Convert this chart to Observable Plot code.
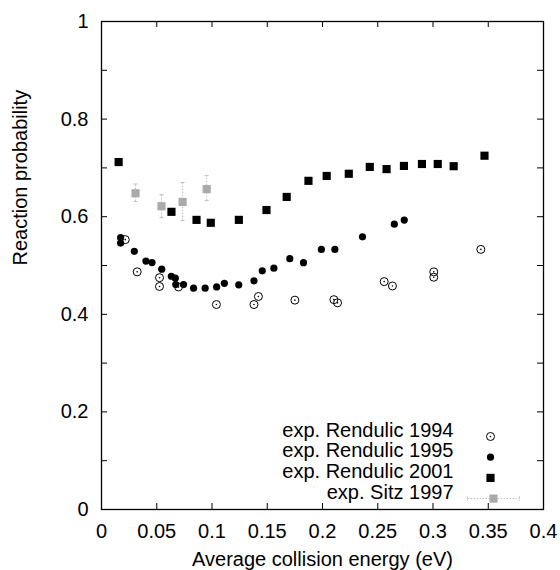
<!DOCTYPE html>
<html>
<head>
<meta charset="utf-8">
<script src="https://cdn.jsdelivr.net/npm/d3@7"></script>
<script src="https://cdn.jsdelivr.net/npm/@observablehq/plot@0.6"></script>
<style>
  html, body { margin: 0; padding: 0; background: white; }
</style>
</head>
<body>
<div id="chart"></div>
<script>
// ---- data ----
const r1994x = [0.0215, 0.0323, 0.0525, 0.0525, 0.0697, 0.104, 0.138, 0.142, 0.175, 0.2103, 0.2136, 0.2558, 0.2633, 0.3007, 0.3007, 0.3433];
const r1994y = [0.553, 0.487, 0.475, 0.457, 0.456, 0.420, 0.420, 0.4365, 0.429, 0.430, 0.4235, 0.467, 0.458, 0.487, 0.476, 0.533];

const r1995x = [0.0173, 0.0173, 0.0297, 0.0402, 0.0457, 0.0545, 0.0632, 0.0668, 0.0672, 0.0742, 0.0833, 0.0938, 0.1042, 0.1112, 0.1242, 0.138, 0.1455, 0.156, 0.1704, 0.1828, 0.199, 0.2112, 0.2362, 0.265, 0.274];
const r1995y = [0.557, 0.546, 0.529, 0.509, 0.506, 0.4925, 0.478, 0.474, 0.461, 0.461, 0.4535, 0.4535, 0.456, 0.4635, 0.4605, 0.4685, 0.489, 0.4945, 0.514, 0.5058, 0.533, 0.533, 0.5588, 0.5846, 0.593];

const r2001x = [0.0155, 0.0633, 0.086, 0.0989, 0.1243, 0.1493, 0.1676, 0.1873, 0.2038, 0.2238, 0.2428, 0.258, 0.2737, 0.290, 0.3043, 0.3187, 0.3466];
const r2001y = [0.712, 0.610, 0.5935, 0.5875, 0.5935, 0.6137, 0.6405, 0.6735, 0.6835, 0.688, 0.702, 0.6975, 0.704, 0.708, 0.708, 0.7035, 0.725];

const sitzX  = [0.0308, 0.0543, 0.0734, 0.0952];
const sitzY  = [0.648, 0.6215, 0.6303, 0.6565];
const sitzLo = [0.631, 0.598, 0.592, 0.633];
const sitzHi = [0.667, 0.645, 0.670, 0.684];

const seriesLabels = ["exp. Rendulic 1994", "exp. Rendulic 1995", "exp. Rendulic 2001", "exp. Sitz 1997"];

const xTickLabels = [0, 0.05, 0.1, 0.15, 0.2, 0.25, 0.3, 0.35, 0.4];
const yTickLabels = [0, 0.2, 0.4, 0.6, 0.8, 1];
const yMinorTicks = [0, 0.1, 0.2, 0.3, 0.4, 0.5, 0.6, 0.7, 0.8, 0.9, 1];

const xTitle = "Average collision energy (eV)";
const yTitle = "Reaction probability";

// ---- tables ----
const r1994 = r1994x.map((x, i) => ({x, y: r1994y[i]}));
const r1995 = r1995x.map((x, i) => ({x, y: r1995y[i]}));
const r2001 = r2001x.map((x, i) => ({x, y: r2001y[i]}));
const sitz  = sitzX.map((x, i) => ({x, y: sitzY[i], lo: sitzLo[i], hi: sitzHi[i]}));

// ---- layout ----
const W = 560, H = 570;
const mL = 101, mR = 17, mT = 21, mB = 61;
const plotW = W - mL - mR, plotH = H - mT - mB;
const tickLen = 6;
const FS = 20;
const gray = "#aaaaaa";
const barGray = "#bdbdbd";

const capSymbol = {
  draw(ctx) { ctx.moveTo(-2, 0); ctx.lineTo(2, 0); }
};
const legendBarSymbol = {
  draw(ctx) {
    ctx.moveTo(-26, 0); ctx.lineTo(26, 0);
    ctx.moveTo(-26, -2); ctx.lineTo(-26, 2);
    ctx.moveTo(26, -2); ctx.lineTo(26, 2);
  }
};

const legendX = -90, legendSymX = -53, legendY0 = -73, legendStep = 20.7;
const ly = i => legendY0 + i * legendStep;
const legendMarks = [];
seriesLabels.forEach((label, i) => {
  legendMarks.push(Plot.text([label], {
    frameAnchor: "bottom-right", dx: legendX, dy: ly(i),
    textAnchor: "end", fontSize: FS, fill: "black"
  }));
});
legendMarks.push(
  Plot.dot([0], {frameAnchor: "bottom-right", dx: legendSymX, dy: ly(0), r: 4, stroke: "black", fill: "none", strokeWidth: 1}),
  Plot.dot([0], {frameAnchor: "bottom-right", dx: legendSymX, dy: ly(0), r: 0.8, fill: "black", stroke: "none"}),
  Plot.dot([0], {frameAnchor: "bottom-right", dx: legendSymX, dy: ly(1), r: 3.6, fill: "black", stroke: "none"}),
  Plot.dot([0], {frameAnchor: "bottom-right", dx: legendSymX, dy: ly(2), r: 4.6, symbol: "square", fill: "black", stroke: "none"}),
  Plot.dot([0], {frameAnchor: "bottom-right", dx: legendSymX + 3, dy: ly(3), symbol: legendBarSymbol, fill: "none", stroke: barGray, strokeWidth: 1, strokeDasharray: "1.5,1.5"}),
  Plot.dot([0], {frameAnchor: "bottom-right", dx: legendSymX + 3, dy: ly(3), r: 4.6, symbol: "square", fill: gray, stroke: "none"})
);

const chart = Plot.plot({
  width: W, height: H,
  marginLeft: mL, marginRight: mR, marginTop: mT, marginBottom: mB,
  x: {domain: [0, 0.4]},
  y: {domain: [0, 1]},
  style: {fontFamily: "'Liberation Sans', Arial, Helvetica, sans-serif", fontSize: FS + "px", background: "white", color: "black"},
  marks: [
    // inward ticks on all four sides
    Plot.tickX(xTickLabels, {x: d => d, insetTop: plotH - tickLen, stroke: "black", strokeWidth: 1}),
    Plot.tickX(xTickLabels, {x: d => d, insetBottom: plotH - tickLen, stroke: "black", strokeWidth: 1}),
    Plot.tickY(yMinorTicks, {y: d => d, insetRight: plotW - tickLen, stroke: "black", strokeWidth: 1}),
    Plot.tickY(yMinorTicks, {y: d => d, insetLeft: plotW - tickLen, stroke: "black", strokeWidth: 1}),
    Plot.axisX({ticks: xTickLabels, anchor: "bottom", tickSize: 0, tickPadding: 14, tickFormat: d => String(d), label: null, fontSize: FS}),
    Plot.axisY({ticks: yTickLabels, anchor: "left", tickSize: 0, tickPadding: 13, tickFormat: d => String(d), label: null, fontSize: FS}),
    Plot.frame({stroke: "black", strokeWidth: 1.3}),
    Plot.text([yTitle], {frameAnchor: "left", dx: -81, rotate: -90, fontSize: FS, fill: "black"}),
    Plot.text([xTitle], {frameAnchor: "bottom", dy: 56, fontSize: FS, fill: "black"}),
    // Rendulic 1994: open circles with centre dot
    Plot.dot(r1994, {x: "x", y: "y", r: 4, stroke: "black", fill: "none", strokeWidth: 1}),
    Plot.dot(r1994, {x: "x", y: "y", r: 0.8, fill: "black", stroke: "none"}),
    // Rendulic 1995: filled circles
    Plot.dot(r1995, {x: "x", y: "y", r: 3.6, fill: "black", stroke: "none"}),
    // Rendulic 2001: filled squares
    Plot.dot(r2001, {x: "x", y: "y", r: 4.6, symbol: "square", fill: "black", stroke: "none"}),
    // Sitz 1997: grey squares with dotted error bars
    Plot.ruleX(sitz, {x: "x", y1: "lo", y2: "hi", stroke: barGray, strokeWidth: 1, strokeDasharray: "1.5,1.5"}),
    Plot.dot(sitz, {x: "x", y: "lo", symbol: capSymbol, fill: "none", stroke: barGray, strokeWidth: 1}),
    Plot.dot(sitz, {x: "x", y: "hi", symbol: capSymbol, fill: "none", stroke: barGray, strokeWidth: 1}),
    Plot.dot(sitz, {x: "x", y: "y", r: 4.6, symbol: "square", fill: gray, stroke: "none"}),
    ...legendMarks
  ]
});
document.getElementById("chart").appendChild(chart);
</script>
</body>
</html>
